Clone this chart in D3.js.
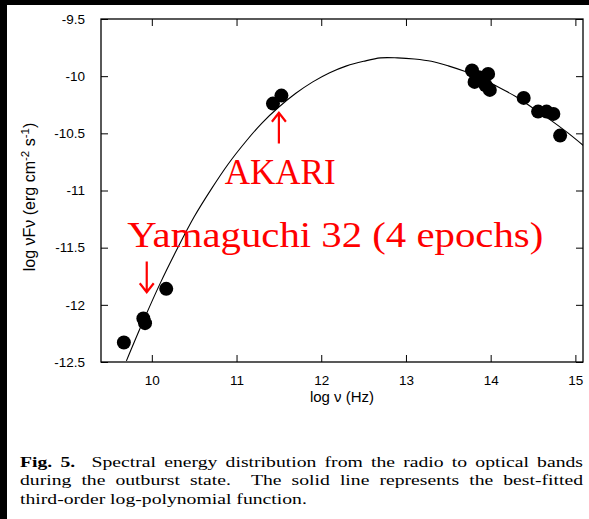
<!DOCTYPE html>
<html>
<head>
<meta charset="utf-8">
<script src="https://cdn.jsdelivr.net/npm/d3@7"></script>
<style>
  html, body { margin: 0; padding: 0; background: #fff; }
  svg { display: block; }
</style>
</head>
<body>
<div id="vis"></div>
<script>
// observed SED points (log nu [Hz], log nuFnu [erg cm-2 s-1])
var sedLogNu   = [9.67, 9.90, 9.92, 10.17, 11.43, 11.53,
                  13.78, 13.97, 13.81, 13.91, 13.86, 13.94, 13.99,
                  14.39, 14.56, 14.66, 14.74, 14.82];
var sedLogFlux = [-12.33, -12.12, -12.16, -11.86, -10.24, -10.17,
                  -9.95, -9.98, -10.05, -10.05, -10.01, -10.08, -10.12,
                  -10.19, -10.31, -10.31, -10.33, -10.52];

// best-fit curve
var fitLogNu   = [9.7, 9.9, 10.1, 10.3, 10.5, 10.7, 10.9, 11.1, 11.3, 11.5, 11.7, 11.9, 12.1, 12.3,
                  12.5, 12.7, 12.9, 13.1, 13.3, 13.5, 13.7, 13.9, 14.1, 14.3, 14.5, 14.7, 14.9, 15.1];
var fitLogFlux = [-12.49, -12.14, -11.81, -11.51, -11.23, -10.99, -10.77, -10.58, -10.41, -10.27,
                  -10.15, -10.05, -9.97, -9.91, -9.87, -9.84, -9.84, -9.85, -9.87, -9.91,
                  -9.96, -10.02, -10.10, -10.18, -10.28, -10.38, -10.49, -10.61];

var xTicks = [10, 11, 12, 13, 14, 15];
var yTicks = [-9.5, -10, -10.5, -11, -11.5, -12, -12.5];

var captionLines = [
  [["Fig.", 1, 1], ["5.", 1, 2], ["Spectral", 0, 1], ["energy", 0, 1], ["distribution", 0, 1], ["from", 0, 1],
   ["the", 0, 1], ["radio", 0, 1], ["to", 0, 1], ["optical", 0, 1], ["bands", 0, 0]],
  [["during", 0, 1], ["the", 0, 1], ["outburst", 0, 1], ["state.", 0, 2], ["The", 0, 1], ["solid", 0, 1],
   ["line", 0, 1], ["represents", 0, 1], ["the", 0, 1], ["best-fitted", 0, 0]],
  [["third-order", 0, 1], ["log-polynomial", 0, 1], ["function.", 0, 0]]
];

var W = 589, H = 519;
var plotL = 101, plotR = 583, plotT = 19, plotB = 362;

var svg = d3.select("#vis").append("svg").attr("width", W).attr("height", H);

// black scan border
svg.append("rect").attr("x", 0).attr("y", 0).attr("width", 7).attr("height", H).style("fill", "#000");
svg.append("rect").attr("x", 0).attr("y", 0).attr("width", W).attr("height", 5).style("fill", "#000");

var x = d3.scaleLinear().domain([9.4, 15.09]).range([plotL, plotR]);
var y = d3.scaleLinear().domain([-12.5, -9.5]).range([plotB, plotT]);

var axisFont = "'Liberation Sans', Arial, Helvetica, sans-serif";

// axes: ticks pointing inwards on all four sides
function styleAxis(g) {
  g.select(".domain").remove();
  g.selectAll(".tick line").style("stroke", "#000").style("stroke-width", 1);
  g.selectAll(".tick text").style("font-family", axisFont).style("font-size", "13.5px").style("fill", "#000");
}

svg.append("g").attr("transform", "translate(0," + plotB + ")")
  .call(d3.axisBottom(x).tickValues(xTicks).tickSizeInner(-7).tickSizeOuter(0).tickPadding(13).tickFormat(d3.format("d")))
  .call(styleAxis);
svg.append("g").attr("transform", "translate(0," + plotT + ")")
  .call(d3.axisTop(x).tickValues(xTicks).tickSizeInner(-7).tickSizeOuter(0).tickFormat(""))
  .call(styleAxis);
svg.append("g").attr("transform", "translate(" + plotL + ",0)")
  .call(d3.axisLeft(y).tickValues(yTicks).tickSizeInner(-7).tickSizeOuter(0).tickPadding(16).tickFormat(function(d) { return String(d); }))
  .call(styleAxis);
svg.append("g").attr("transform", "translate(" + plotR + ",0)")
  .call(d3.axisRight(y).tickValues(yTicks).tickSizeInner(-7).tickSizeOuter(0).tickFormat(""))
  .call(styleAxis);

// frame
svg.append("rect")
  .attr("x", plotL).attr("y", plotT)
  .attr("width", plotR - plotL).attr("height", plotB - plotT)
  .style("fill", "none").style("stroke", "#000").style("stroke-width", 1.3);

// fitted curve, clipped to the frame
svg.append("clipPath").attr("id", "plotclip").append("rect")
  .attr("x", plotL).attr("y", plotT).attr("width", plotR - plotL).attr("height", plotB - plotT);

var fitData = fitLogNu.map(function(v, i) { return [v, fitLogFlux[i]]; });
svg.append("path")
  .datum(fitData)
  .attr("clip-path", "url(#plotclip)")
  .attr("d", d3.line().x(function(d) { return x(d[0]); }).y(function(d) { return y(d[1]); }).curve(d3.curveCatmullRom))
  .style("fill", "none").style("stroke", "#000").style("stroke-width", 1.1);

// data points
svg.selectAll("circle.sed")
  .data(sedLogNu.map(function(v, i) { return [v, sedLogFlux[i]]; }))
  .enter().append("circle")
  .attr("class", "sed")
  .attr("cx", function(d) { return x(d[0]); })
  .attr("cy", function(d) { return y(d[1]); })
  .attr("r", 7)
  .style("fill", "#000");

// axis titles
svg.append("text")
  .attr("x", (plotL + plotR) / 2).attr("y", 402)
  .attr("text-anchor", "middle")
  .style("font-family", axisFont).style("font-size", "15px")
  .text("log \u03bd (Hz)");

var ylab = svg.append("text")
  .attr("transform", "translate(35,197) rotate(-90)")
  .attr("text-anchor", "middle")
  .style("font-family", axisFont).style("font-size", "16px");
ylab.append("tspan").text("log \u03bdF\u03bd (erg cm");
ylab.append("tspan").attr("dy", -6).style("font-size", "11.5px").text("-2");
ylab.append("tspan").attr("dy", 6).text(" s");
ylab.append("tspan").attr("dy", -6).style("font-size", "11.5px").text("-1");
ylab.append("tspan").attr("dy", 6).text(")");

// red annotations
var red = "#ff0000";
var serif = "'Liberation Serif', 'Times New Roman', serif";

function arrow(xv, yFrom, yTo) {
  var px = x(xv), y0 = y(yFrom), y1 = y(yTo);
  var dir = y1 < y0 ? 1 : -1;
  svg.append("path")
    .attr("d", "M" + px + "," + y0 + "L" + px + "," + y1 +
               "M" + (px - 7) + "," + (y1 + dir * 9) + "L" + px + "," + y1 + "L" + (px + 7) + "," + (y1 + dir * 9))
    .style("fill", "none").style("stroke", red).style("stroke-width", 2.2);
}
arrow(11.50, -10.59, -10.32);
arrow(9.94, -11.62, -11.89);

svg.append("text")
  .attr("x", x(10.86)).attr("y", y(-10.94))
  .attr("textLength", 111).attr("lengthAdjust", "spacingAndGlyphs")
  .style("font-family", serif).style("font-size", "35px").style("fill", red)
  .text("AKARI");

svg.append("text")
  .attr("x", x(9.71)).attr("y", y(-11.49))
  .attr("textLength", 416).attr("lengthAdjust", "spacingAndGlyphs")
  .style("font-family", serif).style("font-size", "35px").style("fill", red)
  .text("Yamaguchi 32 (4 epochs)");

// caption, justified
var capLeft = 20, capWidth = 563, capTop = 467, capLead = 18.4;
var capSize = 15.5;

// horizontal scale from the last (unjustified) line
var probe = svg.append("text").style("font-family", serif).style("font-size", capSize + "px")
  .text("third-order log-polynomial function.");
var sx = 287 / probe.node().getComputedTextLength();
probe.remove();

captionLines.forEach(function(line, li) {
  var g = svg.append("g")
    .attr("transform", "translate(" + capLeft + "," + (capTop + li * capLead) + ") scale(" + sx + ",1)");
  var words = line.map(function(w) {
    var t = g.append("text")
      .style("font-family", serif).style("font-size", capSize + "px")
      .style("font-weight", w[1] ? "bold" : "normal").style("fill", "#000")
      .text(w[0]);
    return { node: t, w: t.node().getComputedTextLength(), gap: w[2] };
  });
  var total = d3.sum(words, function(d) { return d.w; });
  var gapUnits = d3.sum(words, function(d) { return d.gap; });
  var space = li < 2 ? (capWidth / sx - total) / gapUnits : capSize * 0.25;
  var cx = 0;
  words.forEach(function(d) {
    d.node.attr("x", cx);
    cx += d.w + d.gap * space;
  });
});
</script>
</body>
</html>
